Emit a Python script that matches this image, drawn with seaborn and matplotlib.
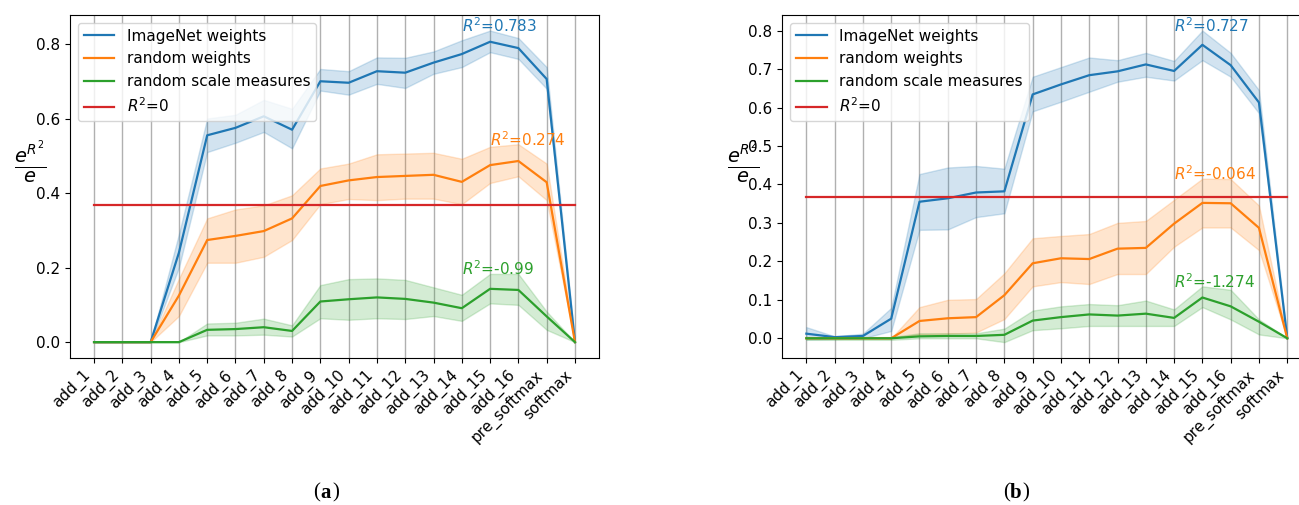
import numpy as np
import pandas as pd
import seaborn as sns
import matplotlib.pyplot as plt

layers = ["add_1", "add_2", "add_3", "add_4", "add_5", "add_6", "add_7", "add_8",
          "add_9", "add_10", "add_11", "add_12", "add_13", "add_14", "add_15",
          "add_16", "pre_softmax", "softmax"]
series_names = ["ImageNet weights", "random weights", "random scale measures"]
r2_zero_label = "$R^2$=0"
r2_zero_value = np.exp(0) / np.e

# panel (a)
a_imagenet = [0, 0, 0, 0.24, 0.555, 0.575, 0.606, 0.57, 0.70, 0.696, 0.727, 0.723,
              0.75, 0.773, 0.806, 0.789, 0.706, 0]
a_imagenet_lo = [0, 0, 0, 0.20, 0.51, 0.535, 0.564, 0.52, 0.675, 0.664, 0.693, 0.682,
                 0.72, 0.738, 0.778, 0.76, 0.68, 0]
a_imagenet_hi = [0, 0, 0, 0.29, 0.60, 0.61, 0.65, 0.626, 0.733, 0.727, 0.764, 0.763,
                 0.78, 0.81, 0.836, 0.816, 0.738, 0]
a_random = [0, 0, 0, 0.125, 0.274, 0.285, 0.298, 0.332, 0.419, 0.434, 0.443, 0.446,
            0.449, 0.43, 0.475, 0.486, 0.429, 0]
a_random_lo = [0, 0, 0, 0.07, 0.213, 0.213, 0.229, 0.274, 0.37, 0.384, 0.381, 0.385,
               0.385, 0.37, 0.427, 0.445, 0.381, 0]
a_random_hi = [0, 0, 0, 0.17, 0.332, 0.356, 0.367, 0.394, 0.466, 0.479, 0.504, 0.506,
               0.508, 0.492, 0.524, 0.531, 0.479, 0]
a_scale = [0, 0, 0, 0, 0.033, 0.035, 0.04, 0.03, 0.109, 0.115, 0.12, 0.116, 0.106,
           0.091, 0.143, 0.14, 0.069, 0]
a_scale_lo = [0, 0, 0, 0, 0.018, 0.018, 0.02, 0.015, 0.064, 0.06, 0.064, 0.062, 0.07,
              0.057, 0.104, 0.10, 0.033, 0]
a_scale_hi = [0, 0, 0, 0, 0.05, 0.052, 0.063, 0.045, 0.153, 0.169, 0.171, 0.167, 0.147,
              0.127, 0.183, 0.183, 0.082, 0]
a_r2 = ["0.783", "0.274", "-0.99"]
a_r2_pos = [13, 14, 13]

# panel (b)
b_imagenet = [0.012, 0.003, 0.006, 0.051, 0.355, 0.364, 0.379, 0.382, 0.634, 0.66,
              0.684, 0.694, 0.712, 0.695, 0.763, 0.71, 0.613, 0]
b_imagenet_lo = [-0.003, -0.002, 0.0, 0.019, 0.282, 0.283, 0.315, 0.325, 0.59, 0.615,
                 0.641, 0.667, 0.68, 0.67, 0.723, 0.68, 0.585, 0]
b_imagenet_hi = [0.029, 0.005, 0.012, 0.079, 0.427, 0.444, 0.448, 0.441, 0.68, 0.705,
                 0.73, 0.723, 0.742, 0.721, 0.80, 0.742, 0.645, 0]
b_random = [0, 0, 0, 0, 0.045, 0.052, 0.055, 0.112, 0.195, 0.208, 0.206, 0.233, 0.235,
            0.298, 0.352, 0.351, 0.287, 0]
b_random_lo = [0, 0, 0, 0, 0.01, 0.012, 0.015, 0.05, 0.135, 0.146, 0.141, 0.167, 0.167,
               0.238, 0.288, 0.288, 0.229, 0]
b_random_hi = [0, 0, 0, 0, 0.081, 0.10, 0.102, 0.169, 0.26, 0.266, 0.271, 0.30, 0.305,
               0.36, 0.415, 0.414, 0.345, 0]
b_scale = [0, 0, 0, 0, 0.005, 0.006, 0.006, 0.009, 0.046, 0.055, 0.062, 0.059, 0.064,
           0.053, 0.106, 0.083, 0.043, 0]
b_scale_lo = [-0.004, -0.004, -0.004, -0.004, 0.0, 0.0, 0.0, -0.01, 0.021, 0.026, 0.032,
              0.032, 0.032, 0.032, 0.081, 0.049, 0.01, 0]
b_scale_hi = [0.003, 0.003, 0.003, 0.003, 0.013, 0.013, 0.013, 0.025, 0.072, 0.083,
              0.089, 0.086, 0.098, 0.075, 0.135, 0.126, 0.049, 0]
b_r2 = ["0.727", "-0.064", "-1.274"]
b_r2_pos = [13, 13, 13]

colors = ["tab:blue", "tab:orange", "tab:green", "tab:red"]

plt.rcParams["font.size"] = 11

fig = plt.figure(figsize=(12.99, 5.05), dpi=100)
ax_a = fig.add_axes([0.05389, 0.29168, 0.40724, 0.67861])
ax_b = fig.add_axes([0.60223, 0.29168, 0.40724, 0.67861])


def panel(ax, means, los, his, r2s, r2_pos):
    pos = np.arange(len(layers))
    rows = []
    for name, vals in zip(series_names, means):
        for p, v in zip(pos, vals):
            rows.append((p, v, name))
    for p in pos:
        rows.append((p, r2_zero_value, r2_zero_label))
    df = pd.DataFrame(rows, columns=["pos", "value", "series"])

    ax.grid(axis="x", color="#b0b0b0", linewidth=1.0)
    ax.set_axisbelow(True)
    for lo, hi, c in zip(los, his, colors):
        ax.fill_between(pos, lo, hi, color=c, alpha=0.2, linewidth=1)
    sns.lineplot(data=df, x="pos", y="value", hue="series", palette=colors,
                 linewidth=1.6, ax=ax)
    sns.move_legend(ax, "upper left", title=None, fontsize=11)

    for r2, p, hi, c in zip(r2s, r2_pos, his, colors):
        ax.annotate(f"$R^2$={r2}", (p, max(hi)), xytext=(0, 5),
                    textcoords="offset pixels", color=c, fontsize=11,
                    ha="left", va="center")

    ax.set_xticks(pos)
    ax.set_xticklabels(layers, rotation=45, ha="right")
    ax.set_xlabel("")
    ax.set_ylabel(r"$\frac{e^{R^2}}{e}$", rotation=0, fontsize=20)
    ax.tick_params(labelsize=11)


panel(ax_a, [a_imagenet, a_random, a_scale],
      [a_imagenet_lo, a_random_lo, a_scale_lo],
      [a_imagenet_hi, a_random_hi, a_scale_hi], a_r2, a_r2_pos)
panel(ax_b, [b_imagenet, b_random, b_scale],
      [b_imagenet_lo, b_random_lo, b_scale_lo],
      [b_imagenet_hi, b_random_hi, b_scale_hi], b_r2, b_r2_pos)

fig.text(0.2463, 0.024, "(", fontsize=15, family="Liberation Serif", ha="right", va="center")
fig.text(0.2463, 0.024, "a", fontsize=15, family="Liberation Serif", weight="bold",
         ha="left", va="center")
fig.text(0.2555, 0.024, ")", fontsize=15, family="Liberation Serif", ha="left", va="center")
fig.text(0.7775, 0.024, "(", fontsize=15, family="Liberation Serif", ha="right", va="center")
fig.text(0.7775, 0.024, "b", fontsize=15, family="Liberation Serif", weight="bold",
         ha="left", va="center")
fig.text(0.7867, 0.024, ")", fontsize=15, family="Liberation Serif", ha="left", va="center")

fig.savefig("out.png", dpi=100)
